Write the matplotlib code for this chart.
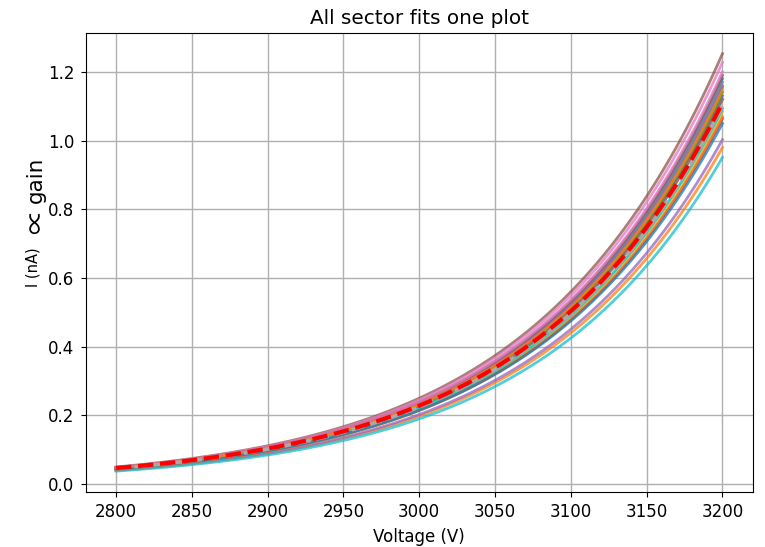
import numpy as np
import matplotlib
matplotlib.use("Agg")
import matplotlib.pyplot as plt

# Fitted sector currents (nA) read at the ends of the voltage range
v_start = 2800
v_end = 3200
i_start = [0.047, 0.040, 0.047, 0.044, 0.041, 0.050, 0.049, 0.047, 0.046, 0.038,
           0.046, 0.043, 0.046, 0.046, 0.047, 0.048, 0.048, 0.046, 0.045, 0.045,
           0.044, 0.047]
i_end = [1.180, 0.980, 1.155, 1.064, 1.003, 1.253, 1.228, 1.170, 1.150, 0.951,
         1.130, 1.070, 1.140, 1.120, 1.160, 1.190, 1.200, 1.120, 1.085, 1.093,
         1.050, 1.145]
# mean fit and reference fit
mean_start, mean_end = 0.047, 1.110
ref_start, ref_end = 0.046, 1.100

V = np.linspace(v_start, v_end, 200)

def expo_fit(a, b):
    # exponential passing through both end values
    k = np.log(b / a) / (v_end - v_start)
    return a * np.exp(k * (V - v_start))

plt.rcParams['font.size'] = 12

fig = plt.figure(figsize=(7.65, 5.47), dpi=100)
ax = fig.add_axes([0.112, 0.1005, 0.872, 0.8395])

for a, b in zip(i_start, i_end):
    ax.plot(V, expo_fit(a, b), lw=2, alpha=0.75)

ax.plot(V, expo_fit(ref_start, ref_end), color='darkgray', lw=2.5, ls='--')
ax.plot(V, expo_fit(mean_start, mean_end), color='red', lw=3, ls='--')

ax.set_title('All sector fits one plot', fontsize=14.4)
ax.set_xlabel('Voltage (V)', fontsize=12, labelpad=5)
ax.tick_params(labelsize=12, pad=4.5)
ax.grid(True, color='#b0b0b0', lw=1)
ax.set_axisbelow(True)

# y label in two sizes
W, H = 765, 547
fig.text(38 / W, 1 - 287 / H, 'I (nA)', rotation=90, fontsize=10.5,
         ha='left', va='baseline', rotation_mode='anchor')
fig.text(37 / W, 1 - 222 / H, '\u221d', rotation=90, fontsize=18,
         family=['Noto Sans CJK JP', 'DejaVu Sans'],
         ha='center', va='center', rotation_mode='anchor')
fig.text(42 / W, 1 - 203 / H, 'gain', rotation=90, fontsize=15.5,
         ha='left', va='baseline', rotation_mode='anchor')

fig.savefig('out.png', dpi=100)
